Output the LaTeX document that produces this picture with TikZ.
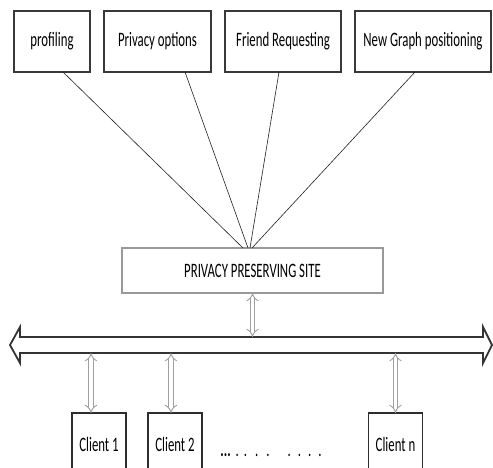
\documentclass[tikz,border=0pt]{standalone}
\usepackage{fontspec}
\setmainfont{Carlito}
\usepackage{graphicx}
\usetikzlibrary{positioning,arrows.meta}

% stretched text, as in the original figure
\newcommand{\tall}[1]{\scalebox{1}[1.6]{#1}}

\tikzset{
    topbox/.style={draw=gray!45!black, line width=1.3pt, fill=white, minimum height=61pt, inner sep=0pt, outer sep=0pt},
    sitebox/.style={draw=gray!80, line width=1.6pt, fill=white, minimum width=261pt, minimum height=45pt, inner sep=0pt, outer sep=0pt},
    clientbox/.style={draw=gray!35!black, line width=1.2pt, fill=white, minimum width=54pt, minimum height=62pt, inner sep=0pt, outer sep=0pt},
    link/.style={draw=gray!25!black, line width=0.6pt},
    dbl/.style={draw=gray!75, line width=0.9pt, double=white, double distance=3.4pt, {Implies}-{Implies}},
    busline/.style={draw=gray!40!black, line width=1.8pt, fill=white, line join=miter},
}

\begin{document}
\begin{tikzpicture}[x=1pt, y=-1pt, font=\fontsize{12.8}{14}\selectfont]
    \useasboundingbox (0,0) rectangle (493,467);

    % top row of features
    \node[topbox, minimum width=76pt] (prof) at (52,41.5) {\tall{profiling}};
    \node[topbox, minimum width=107pt, right=14pt of prof] (privopt) {\tall{Privacy options}};
    \node[topbox, minimum width=116pt, right=14pt of privopt] (friend) {\tall{Friend Requesting}};
    \node[topbox, minimum width=136pt, right=14pt of friend] (graph) {\tall{New Graph positioning}};

    % the site
    \node[sitebox] (site) at (252.5,270.5) {\tall{PRIVACY PRESERVING SITE}};

    % links from the features to the site
    \draw[link] ([xshift=11pt]prof.south) -- ([xshift=-9.5pt]site.north);
    \draw[link] ([xshift=27.5pt]privopt.south) -- ([xshift=-4.5pt]site.north);
    \draw[link] ([xshift=-4pt]friend.south) -- ([xshift=-2.5pt]site.north);
    \draw[link] ([xshift=-8pt]graph.south) -- ([xshift=-0.5pt]site.north);

    % the bus
    \draw[busline] (10,345) -- (20,327) -- (20,337) -- (483,337) -- (483,327) -- (492,345)
        -- (483,363) -- (483,353) -- (20,353) -- (20,363) -- cycle;
    \coordinate (bustop) at (252.5,337);
    \coordinate (busbot) at (0,353);

    \draw[dbl] (site.south) -- (site.south |- bustop);

    % clients
    \node[clientbox] (c1) at (99,444) {\tall{Client 1}};
    \node[clientbox, right=22pt of c1] (c2) {\tall{Client 2}};
    \node[clientbox] (cn) at (395.5,444) {\tall{Client n}};
    \node (dots) at (271,455) {\tall{\textbf{...}\hspace{5pt}.\hspace{5pt}.\hspace{8pt}.\hspace{8pt}.\hspace{18pt}.\hspace{7pt}.\hspace{7pt}.\hspace{7pt}.}};

    \draw[dbl] ([xshift=-8pt]c1.north |- busbot) -- ([xshift=-8pt]c1.north);
    \draw[dbl] ([xshift=-4pt]c2.north |- busbot) -- ([xshift=-4pt]c2.north);
    \draw[dbl] (cn.north |- busbot) -- (cn.north);
\end{tikzpicture}
\end{document}
